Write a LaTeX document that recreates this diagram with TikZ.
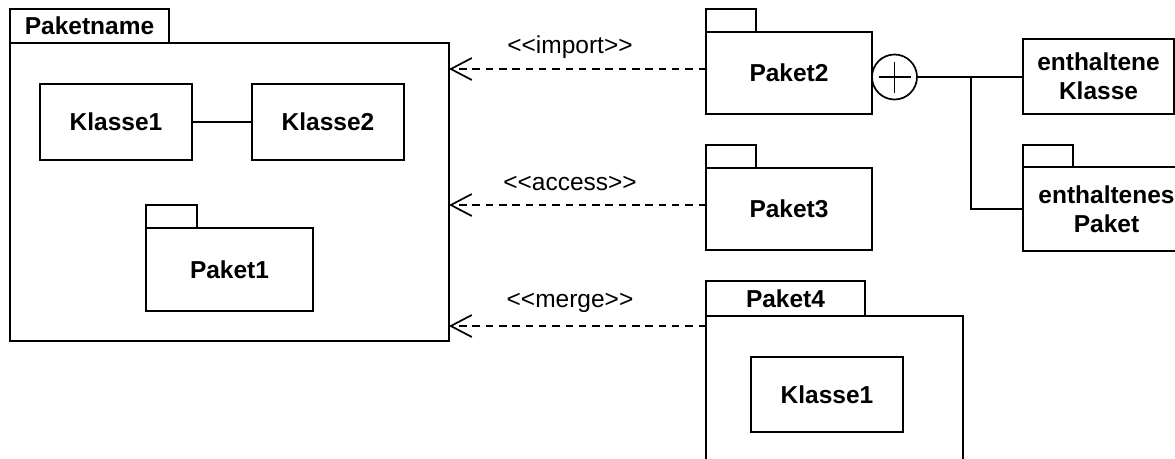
\documentclass[tikz,border=0pt]{standalone}
\usepackage{fontspec}
\setmainfont{Liberation Sans}
\usetikzlibrary{arrows.meta}
\begin{document}
\begin{tikzpicture}[x=1pt,y=-1pt,
  lw/.style={line width=1.7pt},
  box/.style={draw,lw,inner sep=0pt,outer sep=0pt,rectangle,align=center,
    font=\fontsize{24.5}{29}\selectfont\bfseries},
  lbl/.style={inner sep=0pt,font=\fontsize{24.5}{29}\selectfont},
  dep/.style={lw,dash pattern=on 7.5pt off 5.8pt,-{Straight Barb[length=21pt,width=22pt,line width=1.7pt]}},
  conn/.style={lw}]
\useasboundingbox (0,0) rectangle (1175,458);
\clip (0,0) rectangle (1175,458);
% Paketname
\node[box,minimum width=159pt,minimum height=34pt] (pkgtab) at (89.5,26) {Paketname};
\node[box,minimum width=439pt,minimum height=298pt] (pkgbody) at (229.5,192) {};
\node[box,minimum width=152pt,minimum height=76pt] (k1) at (116,122) {Klasse1};
\node[box,minimum width=152pt,minimum height=76pt] (k2) at (328,122) {Klasse2};
\draw[conn] (k1) -- (k2);
\node[box,minimum width=51pt,minimum height=23pt] (p1tab) at (171.5,216.5) {};
\node[box,minimum width=167pt,minimum height=83pt] (p1body) at (229.5,269.5) {Paket1};
% Paket2
\node[box,minimum width=50pt,minimum height=23pt] (p2tab) at (731,20.5) {};
\node[box,minimum width=166pt,minimum height=82pt] (p2body) at (789,73) {Paket2};
% Paket3
\node[box,minimum width=50pt,minimum height=23pt] (p3tab) at (731,156.5) {};
\node[box,minimum width=166pt,minimum height=82pt] (p3body) at (789,209) {Paket3};
% Paket4
\node[box,minimum width=159pt,minimum height=35pt] (p4tab) at (785.5,298.5) {Paket4};
\node[box,minimum width=257pt,minimum height=164pt] (p4body) at (834.5,398) {};
\node[box,minimum width=152pt,minimum height=75pt] (p4k) at (827,394.5) {Klasse1};
% containment
\node[draw,lw,circle,minimum size=45pt,inner sep=0pt,outer sep=0pt] (plus) at (894.5,77) {};
\draw[lw] ([xshift=-16pt]plus.center) -- ([xshift=16pt]plus.center)
          ([yshift=-15.5pt]plus.center) -- ([yshift=15.5pt]plus.center);
\node[box,minimum width=151pt,minimum height=75pt] (ek) at (1098.5,76.5) {enthaltene\\Klasse};
\node[box,minimum width=50pt,minimum height=22pt] (eptab) at (1048,156) {};
\node[box,minimum width=167pt,minimum height=84pt] (epbody) at (1106.5,209) {enthaltenes\\Paket};
\coordinate (j) at (971,77);
\draw[conn] (plus.east) -- (ek.west |- plus.east);
\draw[conn] (j) |- (epbody.west);
% dependencies
\coordinate (imp) at (706,69);
\coordinate (acc) at (706,205);
\coordinate (mrg) at (706,326);
\draw[dep] (imp) -- (imp -| pkgbody.east);
\draw[dep] (acc) -- (acc -| pkgbody.east);
\draw[dep] (mrg) -- (mrg -| pkgbody.east);
\node[lbl] (limp) at (570,47) {<{}<import>{}>};
\node[lbl] (lacc) at (570,183) {<{}<access>{}>};
\node[lbl] (lmrg) at (570,303) {<{}<merge>{}>};
\end{tikzpicture}
\end{document}
